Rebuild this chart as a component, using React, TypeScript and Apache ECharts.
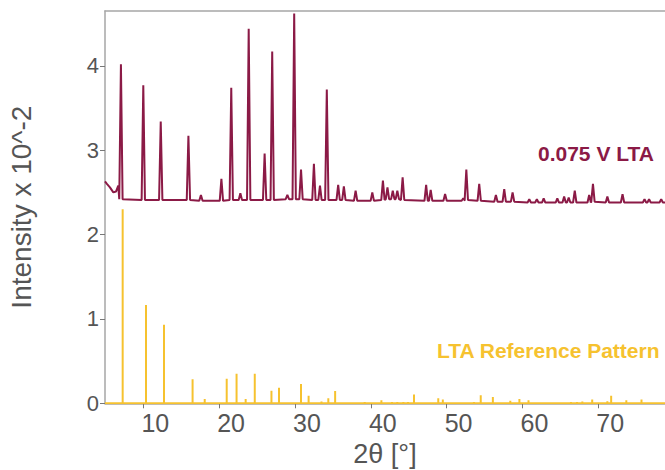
import React, { useEffect, useRef } from "react";
import * as echarts from "echarts";

// Measured XRD pattern of the 0.075 V sample: sloping start, then peaks as [2θ, top, local background]
const measuredStart: [number, number][] = [
  [4.95, 2.63], [5.2, 2.6], [5.6, 2.56], [6.05, 2.5], [6.4, 2.51], [6.7, 2.58],
];
const measuredPeaks: [number, number, number][] = [
  [7.05, 4.02, 2.42], [10.0, 3.77, 2.41], [12.3, 3.34, 2.41], [15.95, 3.17, 2.41],
  [17.6, 2.47, 2.4], [20.3, 2.66, 2.4], [21.6, 3.74, 2.41], [22.8, 2.49, 2.41],
  [23.9, 4.44, 2.41], [26.0, 2.96, 2.41], [27.0, 4.17, 2.41], [29.0, 2.47, 2.42],
  [29.9, 4.62, 2.42], [30.8, 2.77, 2.42], [32.5, 2.84, 2.41], [33.3, 2.58, 2.41],
  [34.2, 3.72, 2.41], [35.7, 2.59, 2.41], [36.45, 2.57, 2.41], [38.0, 2.52, 2.4],
  [40.2, 2.5, 2.4], [41.6, 2.64, 2.41], [42.2, 2.56, 2.42], [42.9, 2.52, 2.42],
  [43.5, 2.52, 2.42], [44.2, 2.68, 2.41], [47.3, 2.59, 2.4], [47.9, 2.53, 2.4],
  [49.8, 2.48, 2.4], [52.2, 2.43, 2.4], [52.6, 2.77, 2.41], [54.3, 2.6, 2.4],
  [56.5, 2.47, 2.39], [57.6, 2.54, 2.39], [58.7, 2.5, 2.39], [60.9, 2.42, 2.38],
  [61.9, 2.42, 2.38], [62.8, 2.43, 2.38], [64.6, 2.43, 2.38], [65.5, 2.45, 2.38],
  [66.1, 2.44, 2.38], [66.9, 2.52, 2.38], [68.8, 2.47, 2.38], [69.3, 2.6, 2.39],
  [71.2, 2.45, 2.38], [73.2, 2.48, 2.38], [76.1, 2.42, 2.38], [76.7, 2.42, 2.38],
  [78.3, 2.42, 2.38],
];
const measuredEnd: [number, number] = [78.8, 2.38];

// LTA reference stick pattern: [2θ, relative intensity]
const referenceSticks: [number, number][] = [
  [7.28, 2.3], [10.36, 1.165], [12.73, 0.93], [14.76, 0.01], [16.5, 0.285],
  [18.1, 0.05], [21.0, 0.29], [22.3, 0.35], [23.5, 0.05], [24.7, 0.35],
  [26.9, 0.15], [27.9, 0.185], [30.8, 0.23], [31.8, 0.09], [33.5, 0.02],
  [34.4, 0.06], [35.3, 0.145], [36.9, 0.012], [37.6, 0.012], [38.4, 0.012],
  [39.2, 0.015], [41.4, 0.035], [42.8, 0.015], [43.5, 0.015], [44.3, 0.015],
  [44.9, 0.015], [45.7, 0.105], [48.9, 0.06], [49.5, 0.045], [53.6, 0.015],
  [54.5, 0.095], [56.1, 0.075], [58.4, 0.03], [59.6, 0.05], [60.8, 0.035],
  [62.0, 0.012], [62.8, 0.012], [63.7, 0.012], [64.6, 0.012], [65.5, 0.012],
  [66.4, 0.015], [67.2, 0.015], [67.9, 0.02], [69.2, 0.045], [71.2, 0.025],
  [71.7, 0.09], [73.7, 0.035], [75.7, 0.045],
];

const xTicks = [10, 20, 30, 40, 50, 60, 70];
const yTicks = [0, 1, 2, 3, 4];
const X_MIN = 4.95;
const X_MAX = 78.8;
const Y_MAX = 4.65;

const MAROON = "#8b1a46";
const YELLOW = "#f6c22f";
const AXIS_GREY = "#a6a6a6";
const TEXT_GREY = "#555555";
const FONT = "'Liberation Sans', Arial, Helvetica, sans-serif";

function buildMeasured(): [number, number][] {
  const hw = 0.22;
  const out: [number, number][] = [...measuredStart];
  for (const [pos, top, base] of measuredPeaks) {
    out.push([pos - hw, base], [pos, top], [pos + hw, base]);
  }
  out.push(measuredEnd);
  return out;
}

function buildReference(): [number, number][] {
  const out: [number, number][] = [[X_MIN, 0]];
  for (const [pos, h] of referenceSticks) {
    out.push([pos, 0], [pos, h], [pos, 0]);
  }
  out.push([X_MAX, 0]);
  return out;
}

export default function App() {
  const ref = useRef<HTMLDivElement>(null);

  useEffect(() => {
    if (!ref.current) return;
    const chart = echarts.init(ref.current, undefined, { renderer: "svg" });
    chart.setOption({
      animation: false,
      backgroundColor: "#ffffff",
      grid: {
        left: 105,
        right: 0,
        top: 11,
        bottom: 66.7,
        show: false,
        containLabel: false,
        outerBoundsMode: "none",
      },
      xAxis: [
        {
          type: "value",
          min: X_MIN,
          max: X_MAX,
          position: "bottom",
          name: "2θ [°]",
          nameLocation: "middle",
          nameGap: 37,
          nameTextStyle: { fontSize: 27, color: TEXT_GREY, fontFamily: FONT },
          axisLine: { show: true, lineStyle: { color: AXIS_GREY, width: 1.5 } },
          axisTick: {
            show: true,
            customValues: xTicks,
            length: 5,
            lineStyle: { color: "#777", width: 1 },
          },
          axisLabel: {
            customValues: xTicks,
            fontSize: 25,
            color: TEXT_GREY,
            fontFamily: FONT,
            margin: 7,
            padding: [0, 0, 0, 24],
          },
          splitLine: { show: false },
        },
        {
          type: "value",
          min: X_MIN,
          max: X_MAX,
          position: "top",
          axisLine: { show: true, onZero: false, lineStyle: { color: AXIS_GREY, width: 1.5 } },
          axisTick: { show: false },
          axisLabel: { show: false },
          splitLine: { show: false },
        },
      ],
      yAxis: {
        type: "value",
        min: 0,
        max: Y_MAX,
        name: "Intensity x 10^-2",
        nameLocation: "middle",
        nameRotate: 90,
        nameGap: 70,
        nameTextStyle: { fontSize: 28, color: TEXT_GREY, fontFamily: FONT },
        axisLine: { show: true, lineStyle: { color: AXIS_GREY, width: 1.5 } },
        axisTick: {
          show: true,
          customValues: yTicks,
          length: 5,
          lineStyle: { color: "#777", width: 1 },
        },
        axisLabel: {
          customValues: yTicks,
          fontSize: 22,
          color: TEXT_GREY,
          fontFamily: FONT,
          margin: 6,
        },
        splitLine: { show: false },
      },
      series: [
        {
          name: "LTA Reference Pattern",
          type: "line",
          data: buildReference(),
          showSymbol: false,
          symbol: "none",
          lineStyle: { color: YELLOW, width: 2 },
          z: 2,
        },
        {
          name: "0.075 V LTA",
          type: "line",
          data: buildMeasured(),
          showSymbol: false,
          symbol: "none",
          lineStyle: { color: MAROON, width: 2 },
          z: 3,
        },
      ],
      graphic: [
        {
          type: "text",
          left: 538,
          top: 143,
          style: {
            text: "0.075 V LTA",
            fill: MAROON,
            font: `bold 21px ${FONT}`,
          },
        },
        {
          type: "text",
          left: 437,
          top: 340,
          style: {
            text: "LTA Reference Pattern",
            fill: YELLOW,
            font: `bold 21px ${FONT}`,
          },
        },
      ],
    });
    return () => chart.dispose();
  }, []);

  return (
    <div
      ref={ref}
      style={{ position: "fixed", left: 0, top: 0, width: 665, height: 470 }}
    />
  );
}
